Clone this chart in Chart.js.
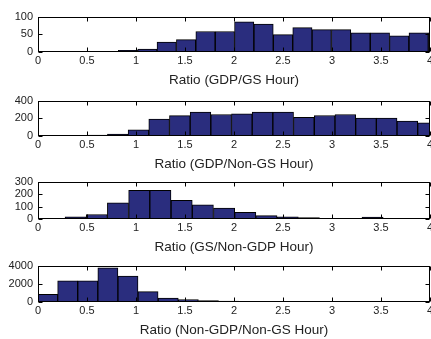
<!DOCTYPE html>
<html><head><meta charset="utf-8">
<script src="https://cdn.jsdelivr.net/npm/chart.js@4.4.0/dist/chart.umd.min.js"></script>
<style>
html,body{margin:0;padding:0;background:#fff;width:431px;height:339px;overflow:hidden;position:relative}
.wrap{position:absolute;left:0;width:450px}
canvas{display:block}
</style></head><body>
<div class="wrap" id="w1"><canvas id="c1"></canvas></div>
<div class="wrap" id="w2"><canvas id="c2"></canvas></div>
<div class="wrap" id="w3"><canvas id="c3"></canvas></div>
<div class="wrap" id="w4"><canvas id="c4"></canvas></div>
<script>
// ---- data ----
const xTickLabels = [0, 0.5, 1, 1.5, 2, 2.5, 3, 3.5, 4];

const title1 = "Ratio (GDP/GS Hour)";
const binCenters1 = [0.918, 1.116, 1.313, 1.511, 1.709, 1.907, 2.104, 2.302, 2.500, 2.698, 2.895, 3.093, 3.291, 3.489, 3.686, 3.884, 4.082];
const counts1 = [5, 8, 28, 35, 58, 58, 85, 79, 49, 69, 63, 63, 54, 54, 46, 54, 54];
const yTicks1 = [0, 50, 100];

const title2 = "Ratio (GDP/Non-GS Hour)";
const binCenters2 = [0.603, 0.814, 1.025, 1.236, 1.447, 1.658, 1.869, 2.080, 2.291, 2.502, 2.713, 2.925, 3.136, 3.347, 3.558, 3.769, 3.980];
const counts2 = [9, 22, 69, 191, 230, 270, 243, 250, 270, 270, 211, 232, 243, 202, 202, 169, 150];
const yTicks2 = [0, 200, 400];

const title3 = "Ratio (GS/Non-GDP Hour)";
const binCenters3 = [0.384, 0.600, 0.816, 1.033, 1.249, 1.466, 1.682, 1.899, 2.115, 2.331, 2.548, 2.764, 2.981, 3.197, 3.414, 3.630, 3.846, 4.063];
const counts3 = [18, 36, 130, 230, 230, 150, 114, 88, 53, 27, 18, 11, 4, 3, 15, 3, 2, 2];
const yTicks3 = [0, 100, 200, 300];

const title4 = "Ratio (Non-GDP/Non-GS Hour)";
const binCenters4 = [0.098, 0.303, 0.508, 0.713, 0.918, 1.123, 1.329, 1.534, 1.739, 1.944, 2.149, 2.354, 2.560, 2.765, 2.970, 3.175, 3.380, 3.585, 3.790, 3.996];
const counts4 = [830, 2330, 2330, 3760, 2835, 1145, 435, 270, 165, 90, 55, 45, 35, 30, 25, 22, 20, 15, 0, 25];
const yTicks4 = [0, 2000, 4000];

// ---- style / layout ----
const BAR = 'rgb(42,45,126)';
const FONT = "'Liberation Sans', Arial, Helvetica, sans-serif";
const TXT = '#222';

const frame = {
  id: 'frame',
  afterDatasetsDraw(chart) {
    const {ctx, chartArea: a, scales: {x, y}} = chart;
    ctx.save();
    ctx.strokeStyle = '#000';
    ctx.lineWidth = 1;
    const L = Math.round(a.left) + 0.5, R = Math.round(a.right) - 0.5;
    const T = Math.round(a.top) + 0.5, B = Math.round(a.bottom) - 0.5;
    ctx.beginPath();
    x.ticks.forEach(t => {
      const px = Math.round(x.getPixelForValue(t.value)) + 0.5;
      ctx.moveTo(px, B); ctx.lineTo(px, B - 4);
      ctx.moveTo(px, T); ctx.lineTo(px, T + 4);
    });
    y.ticks.forEach(t => {
      const py = Math.round(y.getPixelForValue(t.value)) + 0.5;
      ctx.moveTo(L, py); ctx.lineTo(L + 4, py);
      ctx.moveTo(R, py); ctx.lineTo(R - 4, py);
    });
    ctx.stroke();
    ctx.strokeRect(L, T, R - L, B - T);
    ctx.restore();
  }
};

function makeChart(n, centers, counts, yTicks, title, boxTop, boxBottom) {
  const padTop = 10, xH = 36;
  const plotH = boxBottom - boxTop + 1;
  const H = padTop + plotH + xH;
  const wrap = document.getElementById('w' + n);
  wrap.style.top = (boxTop - padTop) + 'px';
  wrap.style.height = H + 'px';
  const cv = document.getElementById('c' + n);
  cv.width = 450; cv.height = H;
  cv.style.width = '450px'; cv.style.height = H + 'px';
  new Chart(cv, {
    type: 'bar',
    data: {
      datasets: [{
        data: centers.map((c, i) => ({x: c, y: counts[i]})),
        backgroundColor: BAR,
        borderColor: '#000',
        borderWidth: 1,
        barPercentage: 1,
        categoryPercentage: 1
      }]
    },
    options: {
      responsive: false,
      animation: false,
      devicePixelRatio: 1,
      layout: {padding: {top: padTop, right: 20, left: 0, bottom: 0}},
      plugins: {legend: {display: false}, tooltip: {enabled: false}},
      scales: {
        x: {
          type: 'linear', min: 0, max: 4, offset: false,
          grid: {display: false, drawTicks: false, offset: false},
          border: {display: false},
          afterBuildTicks: s => { s.ticks = xTickLabels.map(v => ({value: v})); },
          afterFit: s => { s.height = xH; s.paddingLeft = 0; s.paddingRight = 0; },
          ticks: {
            maxRotation: 0, autoSkip: false, padding: 2, color: TXT,
            font: {family: FONT, size: 11},
            callback: v => String(v)
          },
          title: {display: true, text: title, color: TXT, padding: {top: 0, bottom: 0},
                  font: {family: FONT, size: 13.5}}
        },
        y: {
          type: 'linear', min: yTicks[0], max: yTicks[yTicks.length - 1],
          grid: {display: false, drawTicks: false},
          border: {display: false},
          afterBuildTicks: s => { s.ticks = yTicks.map(v => ({value: v})); },
          afterFit: s => { s.width = 38; },
          ticks: {
            padding: 5, color: TXT, autoSkip: false,
            font: {family: FONT, size: 11},
            callback: v => String(v)
          }
        }
      }
    },
    plugins: [frame]
  });
}

makeChart(1, binCenters1, counts1, yTicks1, title1, 15, 51);
makeChart(2, binCenters2, counts2, yTicks2, title2, 99, 135);
makeChart(3, binCenters3, counts3, yTicks3, title3, 180, 218);
makeChart(4, binCenters4, counts4, yTicks4, title4, 264, 301);
</script>
</body></html>
